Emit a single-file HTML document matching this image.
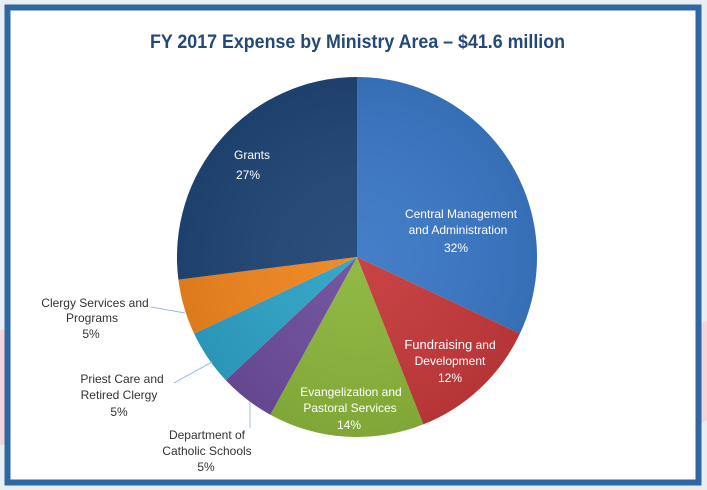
<!DOCTYPE html>
<html><head><meta charset="utf-8"><style>
html,body{margin:0;padding:0;width:707px;height:490px;overflow:hidden;background:#e9eef3;}
</style></head><body>
<svg width="707" height="490" viewBox="0 0 707 490" xmlns="http://www.w3.org/2000/svg" font-family="Liberation Sans, sans-serif">
<defs>
<radialGradient id="g" cx="0.5" cy="0.5" r="0.5">
<stop offset="0" stop-color="#fff" stop-opacity="0.05"/>
<stop offset="1" stop-color="#000" stop-opacity="0.08"/>
</radialGradient>
</defs>
<rect x="0" y="0" width="707" height="490" fill="#e9eef3"/>
<polygon points="0,330 40,320 40,440 0,445" fill="#f3d6da"/>
<polygon points="690,330 707,320 707,420 690,430" fill="#f3d6da"/>
<rect x="7.5" y="7.5" width="691" height="475" fill="#ffffff" stroke="#2f67a4" stroke-width="6"/>
<text x="150" y="48" textLength="415" lengthAdjust="spacingAndGlyphs" font-size="19" font-weight="bold" fill="#23497a">FY 2017 Expense by Ministry Area – $41.6 million</text>
<g transform="translate(357,257)">
<path d="M0,0 L0,-180 A180,180 0 0 1 162.9,76.6 Z" fill="#3b78c6"/>
<path d="M0,0 L162.9,76.6 A180,180 0 0 1 66.3,167.4 Z" fill="#c5393a"/>
<path d="M0,0 L66.3,167.4 A180,180 0 0 1 -86.7,157.7 Z" fill="#8bb53b"/>
<path d="M0,0 L-86.7,157.7 A180,180 0 0 1 -131.2,123.2 Z" fill="#6d4d9c"/>
<path d="M0,0 L-131.2,123.2 A180,180 0 0 1 -162.9,76.6 Z" fill="#2ea2c6"/>
<path d="M0,0 L-162.9,76.6 A180,180 0 0 1 -178.6,22.6 Z" fill="#f0851e"/>
<path d="M0,0 L-178.6,22.6 A180,180 0 0 1 0,-180 Z" fill="#204575"/>
<circle r="180" fill="url(#g)"/>
</g>
<g stroke="#9dbcd8" stroke-width="1" fill="none">
<polyline points="151,307 185,313"/>
<polyline points="174,383 212,362"/>
<polyline points="250,428 250,402"/>
</g>
<g font-size="12" fill="#ffffff" text-anchor="middle">
<text x="252" y="159">Grants</text>
<text x="248" y="179">27%</text>
<text x="461" y="218">Central Management</text>
<text x="458" y="234">and Administration</text>
<text x="456" y="252">32%</text>
<text x="450" y="349"><tspan font-size="13">Fundraising</tspan> and</text>
<text x="450" y="365">Development</text>
<text x="450" y="382">12%</text>
<text x="351" y="396">Evangelization and</text>
<text x="350" y="412">Pastoral Services</text>
<text x="349" y="429">14%</text>
</g>
<g font-size="12" fill="#333333" text-anchor="middle">
<text x="95" y="307">Clergy Services and</text>
<text x="92" y="322">Programs</text>
<text x="91" y="338">5%</text>
<text x="122" y="383">Priest Care and</text>
<text x="119" y="399">Retired Clergy</text>
<text x="119" y="416">5%</text>
<text x="207" y="439">Department of</text>
<text x="207" y="455">Catholic Schools</text>
<text x="206" y="471">5%</text>
</g>
</svg>
</body></html>
